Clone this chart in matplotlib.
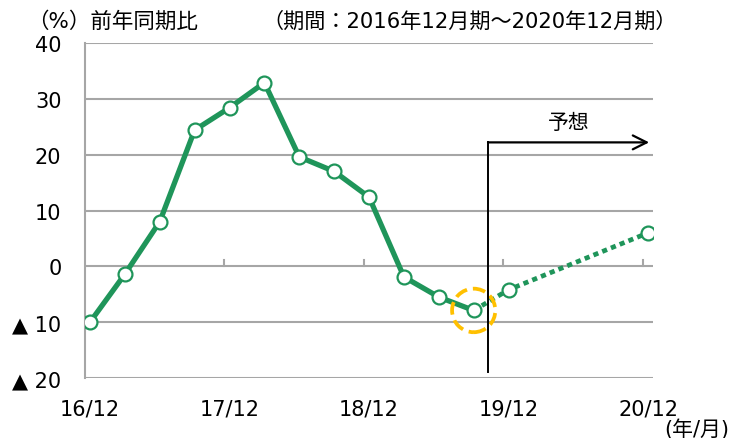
import matplotlib
matplotlib.use("Agg")
import matplotlib.pyplot as plt
from matplotlib.patches import Ellipse

plt.rcParams['font.family'] = ['DejaVu Sans', 'Noto Sans CJK JP']

# 実績（四半期）
actual_periods = ['16/12', '17/3', '17/6', '17/9', '17/12', '18/3', '18/6',
                  '18/9', '18/12', '19/3', '19/6', '19/9']
actual_values = [-10.0, -1.4, 8.0, 24.4, 28.4, 32.9, 19.6, 17.0, 12.4,
                 -1.9, -5.5, -7.9]
# 予想
forecast_periods = ['19/9', '19/12', '20/12']
forecast_values = [-7.9, -4.2, 6.0]

tick_labels = ['16/12', '17/12', '18/12', '19/12', '20/12']
y_ticks = [-20, -10, 0, 10, 20, 30, 40]
y_tick_labels = ['▲ 20', '▲ 10', '0', '10', '20', '30', '40']

green = '#1f955a'
gray = '#a6a6a6'


def qpos(p):
    # 16/12 を 0 とした四半期の位置
    y, m = p.split('/')
    return ((int(y) - 16) * 12 + int(m) - 12) / 3


xa = [qpos(p) for p in actual_periods]
xf = [qpos(p) for p in forecast_periods]
xt = [qpos(p) for p in tick_labels]

fig = plt.figure(figsize=(7.34, 4.39), dpi=100)
ax = fig.add_axes([85 / 734, 1 - 379 / 439, (653 - 85) / 734, (379 - 44) / 439])

ax.set_xlim(-0.143, 16.14)
ax.set_ylim(-20, 40)

for y in y_ticks:
    ax.axhline(y, color=gray, lw=1.5, zorder=1)

# 0 の線の上の目盛り
for x in xt[1:]:
    ax.plot([x - 0.15, x - 0.15], [0, 1.1], color=gray, lw=1.5, zorder=1)

ax.plot(xf, forecast_values, color=green, lw=3.4, linestyle=(0, (1.1, 0.9)),
        dash_capstyle='butt', zorder=3)
ax.plot(xf[1:], forecast_values[1:], linestyle='none', marker='o', ms=10,
        mfc='white', mec=green, mew=1.6, zorder=4)
ax.plot(xa, actual_values, color=green, lw=3.8, marker='o', ms=10,
        mfc='white', mec=green, mew=1.6, zorder=4, solid_joinstyle='miter')

# 直近の実績を囲む円
ax.add_patch(Ellipse((xa[-1], actual_values[-1]), 1.24, 7.8, fill=False,
                     edgecolor='#ffc000', lw=2.7, linestyle=(0, (3.4, 1.6)),
                     zorder=5))

# 予想の矢印
xs = xa[-1] + 0.41
ax.plot([xs, xs], [-18.9, 22.2], color='black', lw=1.4, zorder=5)
ax.annotate('', xy=(16.03, 22.2), xytext=(xs, 22.2),
            arrowprops=dict(arrowstyle='->', color='black', lw=1.6,
                            mutation_scale=25, shrinkA=0, shrinkB=0))
ax.text(13.73, 25.9, '予想', fontsize=15, ha='center', va='center')

ax.set_yticks(y_ticks)
ax.set_yticklabels(y_tick_labels, fontsize=15)
ax.set_xticks(xt)
ax.set_xticklabels(tick_labels, fontsize=15)
ax.tick_params(axis='y', length=0, pad=17)
ax.tick_params(axis='x', length=0, pad=15)

for s in ['top', 'right', 'bottom']:
    ax.spines[s].set_visible(False)
ax.spines['left'].set_color(gray)
ax.spines['left'].set_linewidth(1.5)

fig.text(27 / 734, 1 - 22 / 439, '（%）前年同期比', fontsize=15.5, va='center')
fig.text(262 / 734, 1 - 22 / 439, '（期間：2016年12月期～2020年12月期）',
         fontsize=15.2, va='center')
fig.text(664 / 734, 1 - 430 / 439, '(年/月)', fontsize=15, va='center')

fig.savefig('out.png', dpi=100)
